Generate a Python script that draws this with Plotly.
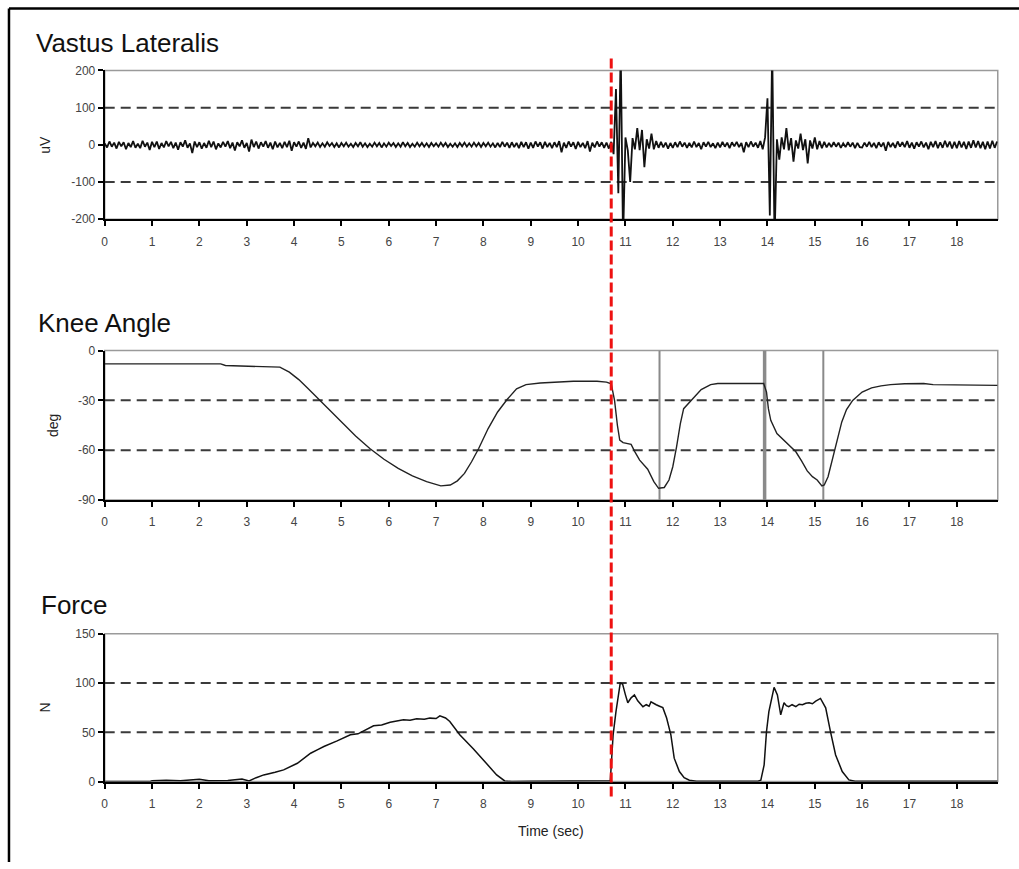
import plotly.graph_objects as go

FONT = "Liberation Sans, Arial, sans-serif"

# ---------------- data ----------------
# Vastus lateralis EMG (uV), one row per second, sampled every 0.05 s
emg_rows = [
    [4, -7, 9, -5, 6, -10, 8, -4, 7, -12, 5, -6, 10, -8, 3, -9, 11, -5, 6, -14],
    [8, -6, 9, -11, 5, -7, 10, -4, 8, -9, 6, -13, 7, -5, 12, -8, 4, -22, 9, -6],
    [7, -10, 5, -8, 11, -6, 9, -12, 4, -7, 8, -5, 10, -9, 6, -15, 7, -4, 12, -8],
    [5, -18, 14, -6, 9, -10, 7, -5, 10, -8, 6, -12, 9, -7, 5, -9, 8, -6, 11, -16],
    [7, -5, 9, -8, 6, -11, 18, -7, 5, -4, 6, -6, 4, -5, 7, -3, 5, -6, 4, -7],
    [5, -4, 6, -5, 3, -6, 5, -4, 7, -5, 4, -6, 3, -5, 6, -4, 5, -7, 4, -5],
    [6, -3, 5, -6, 4, -5, 7, -4, 5, -6, 3, -5, 6, -4, 5, -5, 4, -6, 5, -4],
    [4, -5, 6, -4, 5, -6, 3, -5, 4, -6, 5, -4, 6, -5, 4, -5, 6, -4, 5, -6],
    [5, -4, 6, -5, 4, -7, 5, -6, 8, -5, 6, -8, 7, -6, 5, -9, 8, -6, 7, -10],
    [6, -8, 9, -5, 7, -10, 8, -6, 5, -9, 7, -6, 10, -20, 6, -8, 9, -5, 7, -11],
    [8, -6, 5, -9, 10, -18, 6, -7, 9, -5, 7, -8, 6, -10, 8, -25, 150, -130, 260, -260],
    [20, -15, -100, 18, -12, 45, -14, 40, -60, 15, -10, 30, -12, 10, -8, 8, -7, 6, -10, 5],
    [-8, 7, -6, 9, -5, 6, -8, 5, -7, 9, -6, 5, -12, 7, -5, 8, -6, 4, -9, 6],
    [-7, 8, -5, 6, -9, 7, -4, 8, -6, 5, -20, 7, -6, 9, -5, 6, -8, 10, -12, 20],
    [125, -190, 260, -260, 15, -40, 20, -12, 45, -15, 18, -45, 12, -10, 30, -14, 15, -50, 12, -10],
    [20, -12, 10, -9, 8, -7, 5, -6, 7, -5, 6, -8, 4, -6, 7, -5, 6, -9, 5, -6],
    [-7, 6, -5, 8, -6, 5, -9, 7, -5, 6, -16, 8, -6, 5, -8, 9, -5, 7, -6, 10],
    [-8, 6, -10, 7, -5, 9, -7, 6, -12, 8, -6, 10, -9, 7, -8, 11, -6, 9, -10, 8],
    [-9, 10, -7, 8, -11, 9, -8, 12, -7, 10, -9, 8, -12, 9, -10, 11, -8, 9],
]
EMG_DT = 0.05
emg_uv = [v for row in emg_rows for v in row]
emg_t = [round(i * EMG_DT, 2) for i in range(len(emg_uv))]

# Knee angle (deg)
knee_t = [0, 2.45, 2.55, 3.5, 3.7, 3.9, 4.1, 4.3, 4.55, 4.8, 5.05, 5.3, 5.6, 5.9,
          6.2, 6.5, 6.8, 7.1, 7.3, 7.45, 7.6, 7.75, 7.9, 8.1, 8.3, 8.5, 8.7, 8.9,
          9.2, 9.6, 9.9, 10.4, 10.6, 10.7, 10.77, 10.83, 10.88, 10.95, 11.12, 11.2,
          11.3, 11.47, 11.6, 11.7, 11.82, 11.92, 12.0, 12.08, 12.16, 12.23, 12.33,
          12.45, 12.6, 12.8, 12.95, 13.92, 13.98, 14.02, 14.07, 14.2, 14.35, 14.5,
          14.6, 14.72, 14.84, 14.95, 15.05, 15.15, 15.2, 15.28, 15.37, 15.47, 15.57,
          15.67, 15.8, 16.0, 16.2, 16.4, 16.6, 16.9, 17.3, 17.5, 18.86]
knee_deg = [-8, -8, -9, -9.5, -10, -13, -17.5, -23, -30, -37.5, -44.5, -51.5, -59, -65.5,
            -71, -75.5, -79, -81.5, -81, -78.5, -74, -67, -59, -47, -37, -29.5, -23, -20.5,
            -19.5, -19, -18.5, -18.5, -19, -20, -30, -45, -54, -55.5, -56.5, -61,
            -66, -71.5, -79, -83, -82.5, -78, -70, -58, -44, -35, -32,
            -28.5, -23.5, -20.5, -19.8, -19.8, -25, -35, -42, -50, -54, -58,
            -61, -66.5, -72.5, -76, -78, -81.5, -81, -76, -66, -54, -43,
            -35.5, -30, -25, -22.5, -21.3, -20.5, -20, -19.8, -20.5, -21]

# Event markers on the knee-angle trace (s) and their stroke widths
event_t = [11.72, 13.94, 15.18]
event_w = [2, 3.5, 2]

# Force (N)
force_t = [0, 0.5, 0.95, 1.0, 1.3, 1.6, 1.9, 2.0, 2.2, 2.6, 2.9, 3.05, 3.2, 3.36, 3.6,
           3.78, 4.07, 4.35, 4.5, 4.63, 4.91, 5.19, 5.35, 5.47, 5.68, 5.85, 6.03, 6.31,
           6.45, 6.59, 6.75, 6.87, 7.0, 7.08, 7.2, 7.29, 7.5, 7.79, 8.07, 8.28, 8.45,
           8.6, 9.0, 10.0, 10.68, 10.74, 10.8, 10.89, 10.94, 11.0, 11.05, 11.12, 11.19,
           11.26, 11.32, 11.37, 11.44, 11.5, 11.54, 11.6, 11.65, 11.72, 11.79, 11.87,
           11.96, 12.03, 12.14, 12.24, 12.35, 12.5, 13.8, 13.86, 13.93, 13.98, 14.03,
           14.14, 14.21, 14.28, 14.35, 14.4, 14.45, 14.52, 14.6, 14.67, 14.74, 14.81,
           14.88, 14.95, 15.02, 15.12, 15.23, 15.33, 15.44, 15.58, 15.72, 15.85, 18.86]
force_n = [0, 0.3, 0, 1, 1.5, 1, 1.8, 2.5, 1, 1.2, 2.7, 0.7, 4, 6.8, 9.5,
           11.9, 18.6, 28.8, 32.5, 35.6, 41.3, 47.5, 48.5, 51.5, 56.6, 57.5, 60.3, 62.7,
           62.2, 63.7, 63.2, 64.4, 64.0, 66.7, 64.5, 61, 47.5, 33.2, 18.6, 6.8, 0.7,
           0, 0.3, 0.5, 0.8, 47.5, 71, 100, 99, 88, 80, 85, 88,
           82, 79, 76, 78, 76.5, 81, 79, 78, 76.5, 75, 64.5,
           47.5, 23.8, 10.2, 4, 1.4, 0.3, 0.5, 1.5, 17, 51, 71,
           95.6, 88, 67.8, 80, 77, 76, 78, 76, 78.5, 78, 79.5,
           80, 79, 81.7, 84.4, 74.8, 51, 27, 10.2, 1.7, 0.3, 0.3]

# Axis ticks and reference levels
time_ticks = list(range(0, 19))
uv_ticks = [-200, -100, 0, 100, 200]
deg_ticks = [-90, -60, -30, 0]
n_ticks = [0, 50, 100, 150]
uv_guides = [-100, 100]
deg_guides = [-30, -60]
n_guides = [50, 100]
onset_t = 10.70
T_MAX = 18.865

# ---------------- figure ----------------
W, H = 1019, 869
X_DOM = [102 / W, 997.7 / W]


def py(px):
    """Pixel row measured from the top -> paper y."""
    return 1 - px / H


panels = [
    dict(ax="", top=64.5, bot=215.7, rng=[-200, 200], ticks=uv_ticks, guides=uv_guides,
         title="Vastus Lateralis", title_x=31, title_y=37, unit="uV", unit_x=42),
    dict(ax="2", top=349.2, bot=501, rng=[-90, 0], ticks=deg_ticks, guides=deg_guides,
         title="Knee Angle", title_x=33, title_y=321, unit="deg", unit_x=50),
    dict(ax="3", top=637, bot=787.3, rng=[0, 150], ticks=n_ticks, guides=n_guides,
         title="Force", title_x=36, title_y=607.5, unit="N", unit_x=42),
]

fig = go.Figure()

fig.add_trace(go.Scatter(x=emg_t, y=emg_uv, mode="lines", xaxis="x", yaxis="y",
                         line=dict(color="#111111", width=1.8), hoverinfo="skip"))

for t, w in zip(event_t, event_w):
    fig.add_trace(go.Scatter(x=[t, t], y=[0, -90], mode="lines", xaxis="x2", yaxis="y2",
                             line=dict(color="#8a8a8a", width=w), hoverinfo="skip"))

fig.add_trace(go.Scatter(x=knee_t, y=knee_deg, mode="lines", xaxis="x2", yaxis="y2",
                         line=dict(color="#222222", width=1.4), hoverinfo="skip"))

fig.add_trace(go.Scatter(x=force_t, y=force_n, mode="lines", xaxis="x3", yaxis="y3",
                         line=dict(color="#111111", width=1.5), hoverinfo="skip"))

axis_common = dict(showgrid=False, zeroline=False, showline=True, linecolor="black",
                   linewidth=2, ticks="outside", ticklen=5, tickwidth=1.5,
                   tickcolor="black", tickfont=dict(family=FONT, size=12, color="#444444"))

shapes = []
annotations = []
layout_axes = {}
for p in panels:
    a = p["ax"]
    layout_axes["xaxis" + a] = dict(
        axis_common, domain=X_DOM, range=[0, T_MAX], anchor="y" + a,
        tickvals=time_ticks, ticktext=[str(v) for v in time_ticks],
        ticklabelstandoff=5)
    layout_axes["yaxis" + a] = dict(
        axis_common, domain=[py(p["bot"]), py(p["top"])], range=p["rng"],
        anchor="x" + a, tickvals=p["ticks"], ticktext=[str(v) for v in p["ticks"]])
    xr = "x" + a
    yr = "y" + a
    # light frame on the plot area
    shapes.append(dict(type="rect", xref=xr + " domain", yref=yr + " domain",
                       x0=0, x1=1, y0=0, y1=1, layer="below",
                       line=dict(color="#9a9a9a", width=1.5)))
    for g in p["guides"]:
        shapes.append(dict(type="line", xref=xr + " domain", yref=yr, x0=0, x1=1,
                           y0=g, y1=g, layer="below",
                           line=dict(color="#3a3a3a", width=2, dash="10px,6px")))
    annotations.append(dict(text=p["title"], x=p["title_x"] / W, y=py(p["title_y"]),
                            xref="paper", yref="paper", xanchor="left", yanchor="middle",
                            showarrow=False, font=dict(family=FONT, size=26, color="#111111")))
    annotations.append(dict(text=p["unit"], x=p["unit_x"] / W,
                            y=py((p["top"] + p["bot"]) / 2), xref="paper", yref="paper",
                            xanchor="center", yanchor="middle", textangle=-90,
                            showarrow=False, font=dict(family=FONT, size=14, color="#222222")))

annotations.append(dict(text="Time (sec)", x=550 / W, y=py(837), xref="paper", yref="paper",
                        xanchor="center", yanchor="middle", showarrow=False,
                        font=dict(family=FONT, size=14, color="#222222")))

# onset marker through all three panels
shapes.append(dict(type="line", xref="x", yref="paper", x0=onset_t, x1=onset_t,
                   y0=py(802.5), y1=py(49),
                   line=dict(color="#ee1111", width=3, dash="10px,4px")))

# outer frame (left and top edges)
shapes.append(dict(type="line", xref="paper", yref="paper", x0=6 / W, x1=6 / W,
                   y0=0, y1=py(1.5), line=dict(color="black", width=2.5)))
shapes.append(dict(type="line", xref="paper", yref="paper", x0=6 / W, x1=1,
                   y0=py(1.5), y1=py(1.5), line=dict(color="black", width=2.5)))

fig.update_layout(
    width=W, height=H, margin=dict(l=0, r=0, t=0, b=0),
    paper_bgcolor="white", plot_bgcolor="white", showlegend=False,
    shapes=shapes, annotations=annotations, **layout_axes)

fig.write_html("out.html")
